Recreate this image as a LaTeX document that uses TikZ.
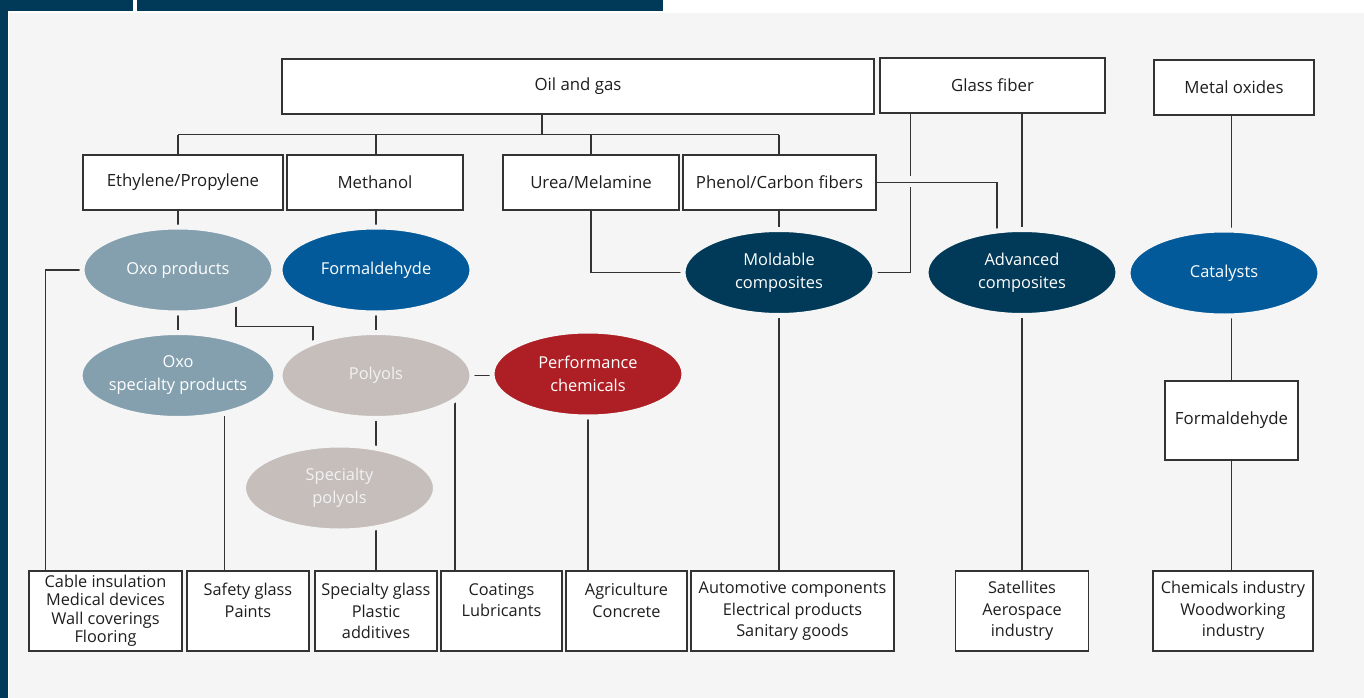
\documentclass[tikz,border=0pt]{standalone}
\usepackage{fontspec}
\setmainfont{Open Sans}
\usetikzlibrary{shapes.geometric,calc}
\pgfdeclarelayer{panel}
\pgfdeclarelayer{lines}
\pgfsetlayers{panel,lines,main}
\definecolor{navy}{HTML}{003A58}
\definecolor{panelgray}{HTML}{F5F5F5}
\definecolor{oxoblue}{HTML}{84A0AE}
\definecolor{midblue}{HTML}{035A9A}
\definecolor{warmgray}{HTML}{C5BEBB}
\definecolor{perfred}{HTML}{AD1F24}
\definecolor{linegray}{HTML}{333333}
\definecolor{textgray}{HTML}{1E1E1E}
\begin{document}
\begin{tikzpicture}[x=1pt,y=-1pt,
  box/.style={draw=linegray, line width=1.1pt, fill=white, inner sep=0pt, align=center,
    font=\fontsize{16.8}{20}\selectfont, text=textgray, minimum height=55pt},
  bbox/.style={draw=linegray, line width=1.1pt, fill=white, inner sep=0pt, align=center,
    font=\fontsize{16.3}{21.5}\selectfont, text=textgray, minimum height=80pt},
  oval/.style={ellipse, draw=panelgray, line width=5pt, inner sep=0pt, align=center,
    minimum width=192pt, minimum height=86pt, text=white,
    font=\fontsize{16.4}{23}\selectfont},
  conn/.style={draw=linegray, line width=1.1pt}
]
\useasboundingbox (0,0) rectangle (1364,698);
\begin{pgfonlayer}{panel}
  \fill[white] (0,0) rectangle (1364,698);
  \fill[panelgray] (9,12.7) rectangle (1364,698);
  \fill[navy] (0,0) rectangle (133,11.3);
  \fill[navy] (0,0) rectangle (8,698);
  \fill[navy] (137,0) rectangle (663,11.3);
\end{pgfonlayer}

% top boxes
\node[box, minimum width=592pt] (oil) at (578,86.5) {Oil and gas};
\node[box, minimum width=225pt] (glass) at (992.5,85.5) {Glass fiber};
\node[box, minimum width=160pt] (metal) at (1234,87.5) {Metal oxides};
\node[box, minimum width=200pt] (eth) at (183,182.5) {Ethylene/Propylene};
\node[box, minimum width=176pt] (meth) at (375,182.5) {Methanol};
\node[box, minimum width=176pt] (urea) at (591,182.5) {Urea/Melamine};
\node[box, minimum width=193pt] (phe) at (779.5,182.5) {Phenol/Carbon fibers};

% ellipses
\node[oval, fill=oxoblue] (oxo) at (178,270) {Oxo products};
\node[oval, fill=midblue] (form) at (376,270) {Formaldehyde};
\node[oval, fill=navy] (mold) at (779,272.5) {Moldable\\composites};
\node[oval, fill=navy] (adv) at (1022,272.5) {Advanced\\composites};
\node[oval, fill=midblue] (cat) at (1224,273) {Catalysts};
\node[oval, fill=oxoblue] (oxsp) at (178,375.5) {Oxo\\specialty products};
\node[oval, fill=warmgray, text=white!95!black] (poly) at (376,375.5) {Polyols};
\node[oval, fill=perfred] (perf) at (588,374) {Performance\\chemicals};
\node[oval, fill=warmgray, text=white!95!black] (spp) at (339.5,488) {Specialty\\polyols};

\node[box, minimum width=133pt, minimum height=79pt] (fbox) at (1231.5,420.5) {Formaldehyde};

% bottom boxes
\node[bbox, minimum width=153pt, font=\fontsize{16.3}{18.5}\selectfont] (cable) at (105.5,611) {Cable insulation\\Medical devices\\Wall coverings\\Flooring};
\node[bbox, minimum width=122pt] (safety) at (248,611) {Safety glass\\Paints\\\mbox{}};
\node[bbox, minimum width=122pt] (specglass) at (376,611) {Specialty glass\\Plastic\\additives};
\node[bbox, minimum width=121pt] (coat) at (501.5,611) {Coatings\\Lubricants\\\mbox{}};
\node[bbox, minimum width=121pt] (agri) at (626.5,611) {Agriculture\\Concrete\\\mbox{}};
\node[bbox, minimum width=203pt] (auto) at (792.5,611) {Automotive components\\Electrical products\\Sanitary goods};
\node[bbox, minimum width=133pt] (sat) at (1022,611) {Satellites\\Aerospace\\industry};
\node[bbox, minimum width=160pt] (chem) at (1233,611) {Chemicals industry\\Woodworking\\industry};

\begin{pgfonlayer}{lines}
  \draw[conn] ($(oil.south)+(-36,0)$) -- ++(0,20) coordinate (busc);
  \draw[conn] (oxo.center |- busc) -- (mold.center |- busc);
  \draw[conn] (oxo.center |- busc) -- (oxsp.center);
  \draw[conn] (form.center |- busc) -- (form.center |- specglass.north);
  \draw[conn] (urea.center |- busc) -- (urea.center) |- (mold.center);
  \draw[conn] (mold.center |- busc) -- (mold.center |- auto.north);
  \draw[conn] ($(oxo.center)+(58,0)$) |- ($(poly.center)+(-63,-49)$) -- ($(poly.center)+(-63,0)$);
  \draw[conn] (oxo.center) -| ($(cable.north west)+(17,0)$);
  \path (oxsp.center) ++(46.5,0) coordinate (a1);
  \draw[conn] (a1) -- (a1 |- safety.north);
  \draw[conn] (poly.center) -- (poly.center -| perf.center);
  \path (poly.center) ++(79,0) coordinate (a2);
  \draw[conn] (a2) -- (a2 |- coat.north);
  \draw[conn] (perf.center) -- (perf.center |- agri.north);
  \path (glass.south west) ++(31,0) coordinate (gx);
  \draw[conn] (mold.center) -| ($(gx |- phe.east)+(0,4.5)$);
  \draw[conn] (gx) -- ($(gx |- phe.east)+(0,-6.5)$);
  \draw[conn] (phe.east) -| ($(adv.center)+(-25,0)$);
  \draw[conn] (adv.center |- glass.south) -- (adv.center |- sat.north);
  \draw[conn] (fbox.center |- metal.south) -- (fbox.center |- chem.north);
\end{pgfonlayer}
\end{tikzpicture}
\end{document}
